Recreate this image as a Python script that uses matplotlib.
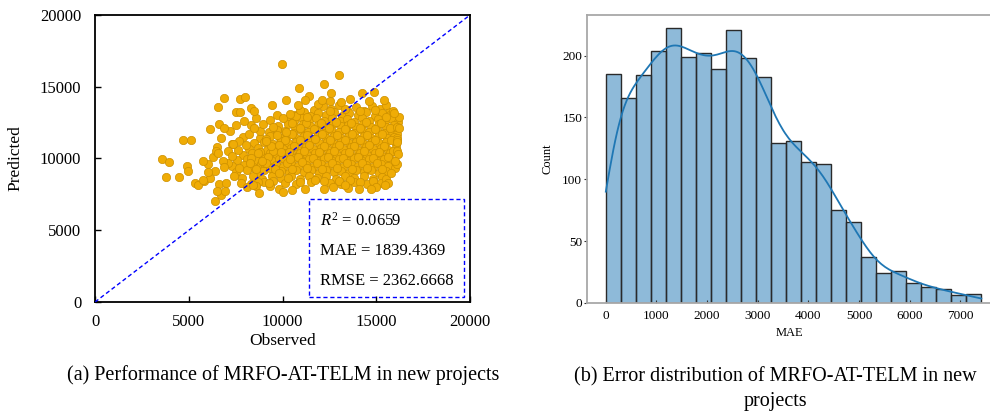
import matplotlib
matplotlib.use("Agg")
import matplotlib.pyplot as plt
from matplotlib.patches import Rectangle
import seaborn as sns

# ---- panel (a): observed vs predicted ----
observed = [
    11650, 12150, 12580, 13020, 13450, 13900, 14350, 14780, 15200, 15650,
    10650, 11120, 11480, 11900, 12320, 12760, 13180, 13560, 14020, 14460, 14900, 15300, 15720, 16050,
    10180, 10600, 11020, 11400, 11790, 12230, 12640, 13040, 13420, 13810, 14240, 14620, 15060, 15450, 15830, 16150,
    9750, 10260, 10680, 11090, 11460, 11880, 12280, 12700, 13100, 13480, 13900, 14300, 14700, 15120, 15530, 15940,
    9260, 9720, 10130, 10560, 10980, 11370, 11800, 12180, 12600, 13010, 13390, 13820, 14210, 14600, 15010, 15420, 15830, 16120,
    8780, 9350, 9840, 10280, 10690, 11120, 11520, 11910, 12310, 12720, 13120, 13520, 13930, 14320, 14730, 15150, 15540, 15960,
    8450, 8980, 9470, 9900, 10310, 10720, 11140, 11530, 11920, 12340, 12730, 13130, 13540, 13920, 14330, 14740, 15130, 15530, 16020,
    8180, 8690, 9180, 9620, 10030, 10430, 10830, 11230, 11630, 12020, 12420, 12820, 13230, 13620, 14020, 14430, 14830, 15230, 15620, 16060,
    7880, 8380, 8870, 9310, 9710, 10120, 10520, 10920, 11320, 11720, 12120, 12520, 12920, 13320, 13720, 14120, 14520, 14920, 15320, 15730,
    7580, 8100, 8610, 9020, 9420, 9820, 10220, 10620, 11020, 11420, 11820, 12220, 12620, 13020, 13420, 13820, 14220, 14620, 15020, 15420, 15830,
    7320, 7920, 8420, 8830, 9230, 9630, 10030, 10430, 10830, 11230, 11630, 12030, 12430, 12830, 13230, 13630, 14030, 14430, 14830, 15230, 15630,
    7520, 8110, 8620, 9030, 9520, 9920, 10330, 10720, 11120, 11520, 11920, 12320, 12720, 13120, 13520, 13920, 14320, 14720, 15120, 15520,
    7820, 8420, 8920, 9420, 9920, 10420, 10920, 11420, 11820, 12320, 12820, 13320, 13820, 14320, 14820, 15320,
    8300, 9020, 10120, 10720, 11520, 12520, 13120, 13820, 14520, 15220,
    11250, 12020, 12850, 13650, 14450, 15250,
    10950, 11650, 12450, 13300, 14100, 14900, 15700,
    10500, 11300, 12100, 12900, 13700, 14500, 15300, 16100,
    10100, 10900, 11700, 12500, 13300, 14100, 14900, 15750,
    9800, 10620, 11430, 12220, 13020, 13820, 14620, 15420,
    9500, 10320, 11120, 11920, 12720, 13520, 14320, 15120, 15900,
    9200, 10020, 10820, 11620, 12420, 13220, 14020, 14820, 15620,
    9000, 10220, 11020, 11820, 12620, 13420, 14220, 15020,
    9300, 10520, 11320, 12120, 12920, 13720, 14520, 15320,
    8600, 9100, 9600, 8300, 8800, 9400, 9100, 9700, 10200, 10500,
    9900, 10400, 9800, 10300, 8700, 9500, 10900, 11700, 12200, 13000,
    13600, 14100, 14800, 15500, 10700, 11300, 12500, 13300, 14100, 14900,
    15500, 16100, 16100, 16100, 16000, 15800, 7100, 7600, 7300, 7900,
    8300, 8800,
    5800, 6000, 6150, 6300, 6400, 6500, 6600, 6700, 6800, 6900,
    7000, 7100, 7200, 7300, 7400, 7500, 7650, 7700, 7800, 7950,
    8050, 8200, 8250, 8450, 8600, 8700, 8900, 8950, 9100, 9300,
    9500, 9700, 10000, 10400, 8100, 8600, 9300, 9800, 11200, 12700,
    13500, 15000, 15600, 16100, 16150, 16180, 15900, 15500, 14600, 13100,
    12500, 11900, 10900,
    3556, 3964, 3769, 4480, 4676, 5138, 4889, 4978, 5351, 5493,
    5760, 5760, 6043, 6133, 6400, 6720, 6524, 6578, 6862, 6613,
    6880, 6951, 6450, 6550, 7378, 7520, 7733, 7733, 8018, 8320,
    8480, 8764, 9458, 9956, 10186, 10862, 11431, 11218, 10809, 12231,
    12996, 12587, 12107, 13564, 14222, 14844, 15378, 10044, 10524, 12231,
    14044, 14702, 15964, 16089, 16178, 15929, 13300, 15467, 9298, 8444,
]
predicted = [
    13380, 13620, 13420, 13700, 13360, 13560, 13300, 13680, 13420, 13250,
    13050, 13200, 12980, 13180, 13040, 13250, 12960, 13140, 13020, 13230, 12970, 13160, 13000, 12880,
    12760, 12620, 12820, 12650, 12780, 12580, 12830, 12640, 12760, 12560, 12800, 12620, 12760, 12590, 12740, 12560,
    12280, 12380, 12200, 12420, 12240, 12360, 12180, 12400, 12230, 12350, 12160, 12390, 12220, 12380, 12190, 12330,
    11860, 12010, 11880, 11780, 11990, 11840, 11960, 11790, 12000, 11830, 11970, 11780, 11990, 11840, 11960, 11800, 11920, 11700,
    11440, 11570, 11400, 11610, 11450, 11560, 11380, 11620, 11440, 11570, 11390, 11600, 11440, 11560, 11390, 11610, 11440, 11520,
    11060, 11170, 10990, 11210, 11040, 11160, 10980, 11220, 11050, 11170, 10990, 11210, 11040, 11160, 10990, 11200, 11050, 11170, 10980,
    10660, 10760, 10590, 10810, 10640, 10760, 10590, 10810, 10660, 10760, 10590, 10810, 10640, 10770, 10580, 10800, 10650, 10760, 10590, 10740,
    10260, 10360, 10190, 10410, 10240, 10360, 10190, 10410, 10250, 10350, 10190, 10410, 10240, 10350, 10190, 10410, 10250, 10360, 10190, 10350,
    9860, 9960, 9790, 10010, 9840, 9960, 9790, 10010, 9850, 9950, 9790, 10010, 9840, 9960, 9790, 10010, 9850, 9960, 9790, 9950, 9840,
    9460, 9560, 9390, 9610, 9440, 9560, 9390, 9610, 9450, 9550, 9390, 9610, 9440, 9560, 9390, 9610, 9450, 9550, 9390, 9610, 9440,
    9050, 9160, 8990, 9210, 9050, 9150, 8990, 9210, 9050, 9160, 8990, 9210, 9050, 9150, 8990, 9200, 9050, 9160, 8990, 9100,
    8650, 8760, 8600, 8750, 8650, 8760, 8600, 8750, 8650, 8760, 8600, 8750, 8650, 8760, 8600, 8700,
    8250, 8360, 8300, 8200, 8360, 8300, 8200, 8350, 8250, 8300,
    12500, 12460, 12520, 12450, 12510, 12470,
    12100, 12060, 12120, 12050, 12110, 12060, 12100,
    11700, 11660, 11720, 11650, 11710, 11660, 11700, 11450,
    11300, 11260, 11320, 11250, 11310, 11260, 11300, 11280,
    10900, 10860, 10920, 10850, 10910, 10860, 10900, 10860,
    10500, 10460, 10520, 10450, 10510, 10460, 10500, 10460, 10500,
    10100, 10060, 10120, 10050, 10110, 10060, 10100, 10060, 10080,
    9700, 9660, 9720, 9650, 9710, 9660, 9700, 9660,
    9300, 9260, 9320, 9250, 9310, 9260, 9300, 9260,
    9250, 9650, 9250, 10050, 10450, 10850, 11350, 11650, 11850, 12450,
    10450, 9950, 8950, 8650, 8350, 8450, 8350, 8500, 8400, 8450,
    8500, 8350, 8400, 8550, 12950, 12900, 13300, 13450, 13300, 13350,
    12900, 12200, 11300, 10500, 9300, 9000, 9700, 10600, 11000, 11500,
    12300, 11900,
    8400, 9600, 8650, 10100, 9150, 10800, 8250, 11400, 9800, 9400,
    8300, 10500, 11900, 10200, 8800, 12300, 11200, 9300, 8300, 12600,
    10900, 11700, 9700, 12100, 12800, 10400, 9800, 12400, 11200, 12700,
    12200, 13000, 12800, 13100, 8000, 8100, 8050, 7900, 7900, 8000,
    7950, 8000, 8300, 9600, 10300, 12100, 13300, 13700, 14000, 13900,
    14000, 13800, 13350,
    9967, 9780, 8713, 8713, 11291, 11268, 9500, 9152, 8318, 8132,
    8500, 9807, 9083, 12035, 7018, 7437, 7716, 13570, 14198, 12407,
    12128, 7737, 10500, 10350, 11013, 13200, 13200, 14128, 14268, 13477,
    13268, 7620, 13710, 16566, 14080, 14895, 14380, 14101, 13710, 15173,
    15822, 14567, 14080, 14149, 14590, 14637, 14080, 7647, 7806, 7876,
    7898, 7898, 9850, 11130, 12894, 13152, 8150, 8132, 8271, 8155,
]
r2_text = "$R^2$ = 0.0659"
mae_text = "MAE = 1839.4369"
rmse_text = "RMSE = 2362.6668"

# ---- panel (b): MAE histogram, 25 bins over 0..7415 ----
n_bins = 25
mae_range = (0, 7415)
bin_counts = [185, 166, 184, 204, 222, 199, 202, 189, 221, 198, 183, 129, 131,
              114, 112, 75, 65, 37, 24, 26, 16, 13, 11, 6, 7]
bin_w = (mae_range[1] - mae_range[0]) / n_bins
bin_centers = [mae_range[0] + bin_w * (i + 0.5) for i in range(n_bins)]

caption_a = "(a) Performance of MRFO-AT-TELM in new projects"
caption_b = "(b) Error distribution of MRFO-AT-TELM in new\nprojects"

plt.rcParams["font.family"] = ["Liberation Serif", "DejaVu Serif"]
plt.rcParams["mathtext.fontset"] = "custom"
plt.rcParams["mathtext.rm"] = "Liberation Serif"
plt.rcParams["mathtext.it"] = "Liberation Serif:italic"

fig = plt.figure(figsize=(9.9, 4.12), dpi=100)
ax1 = fig.add_axes([0.096, 0.267, 0.379, 0.697])
ax2 = fig.add_axes([0.593, 0.265, 0.409, 0.699])

# left panel
ax1.scatter(observed, predicted, s=36, color="#EFAC06", edgecolors="#CC9000",
            linewidths=0.5, zorder=2)
ax1.plot([0, 20000], [0, 20000], color="blue", lw=1.0, ls=(0, (3, 2)), zorder=3)
ax1.add_patch(Rectangle((11400, 350), 8280, 6830, fill=False, edgecolor="blue",
                        lw=1.0, ls=(0, (3, 2)), zorder=4))
for i, txt in enumerate([r2_text, mae_text, rmse_text]):
    ax1.text(12000, 5650 - i * 2100, txt, fontsize=12, va="center", ha="left")
ax1.set_xlim(0, 20000)
ax1.set_ylim(0, 20000)
ax1.set_xticks([0, 5000, 10000, 15000, 20000])
ax1.set_yticks([0, 5000, 10000, 15000, 20000])
ax1.tick_params(direction="in", length=4, width=1, labelsize=12,
                top=False, right=False)
ax1.tick_params(axis="x", pad=9)
ax1.tick_params(axis="y", pad=10)
for sp in ax1.spines.values():
    sp.set_linewidth(1.3)
ax1.set_xlabel("Observed", fontsize=12.5, labelpad=2)
ax1.set_ylabel("Predicted", fontsize=12.5, labelpad=12)

# right panel
sns.histplot(x=bin_centers, weights=bin_counts, bins=n_bins, binrange=mae_range,
             kde=True, kde_kws=dict(bw_adjust=0.35, cut=1, clip=mae_range),
             color="#1f77b4", alpha=0.5, edgecolor="#2a2a2a", linewidth=1.0,
             line_kws=dict(lw=1.3), ax=ax2)
ax2.set_xlim(-370, 7625)
ax2.set_ylim(0, 233)
ax2.set_xticks(range(0, 8000, 1000))
ax2.set_yticks([0, 50, 100, 150, 200])
ax2.tick_params(axis="x", direction="in", length=2.5, labelsize=9.5, pad=5, color="#333333")
ax2.tick_params(axis="y", direction="out", length=2, labelsize=9.5, pad=1.5, color="#333333")
for sp in ax2.spines.values():
    sp.set_color("#a8a8a8")
    sp.set_linewidth(1.3)
ax2.set_xlabel("MAE", fontsize=9, labelpad=4)
ax2.set_ylabel("Count", fontsize=9, labelpad=6)

fig.text(0.286, 0.09, caption_a, fontsize=14.5, ha="center", va="center")
fig.text(0.783, 0.055, caption_b, fontsize=14.5, ha="center", va="center",
         linespacing=1.4)

fig.savefig("out.png", dpi=100)
